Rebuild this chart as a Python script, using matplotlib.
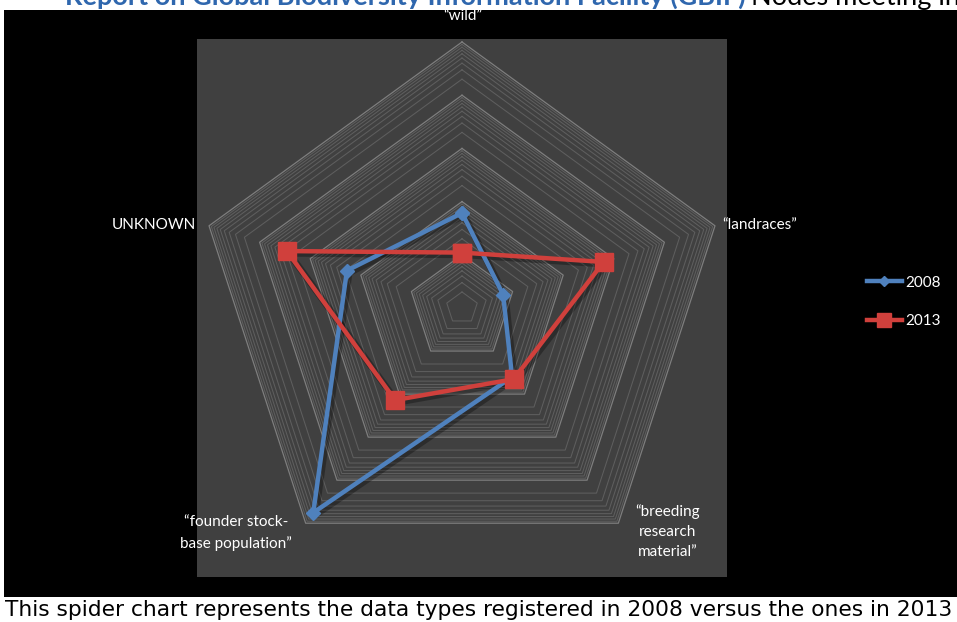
import numpy as np
import matplotlib
matplotlib.use("Agg")
import matplotlib.pyplot as plt
from matplotlib.patches import Rectangle

# ---- data ----
categories = ["\u201cwild\u201d", "\u201clandraces\u201d", "\u201cbreeding\nresearch\nmaterial\u201d",
              "\u201cfounder stock-\nbase population\u201d", "UNKNOWN"]
series_names = ["2008", "2013"]
values_2008 = [61, 6.5, 40, 57000, 188]
values_2013 = [11, 630, 45, 138, 2900]
decades = 5  # log axis 1 .. 100000

W, H = 957, 622
fig = plt.figure(figsize=(W / 100, H / 100), dpi=100, facecolor="white")

def fx(px):
    return px / W

def fy(py):
    return 1 - py / H

# black slide background
fig.patches.append(Rectangle((fx(4), fy(597)), fx(957) - fx(4), fy(10) - fy(597),
                             transform=fig.transFigure, facecolor="black", edgecolor="none", zorder=-10))

# plot area
L, T, Rr, B = 197, 39, 727, 577
ax = fig.add_axes([fx(L), fy(B), fx(Rr) - fx(L), fy(T) - fy(B)])
ax.set_facecolor("#404040")
cx, cy, R = 462, 308, 266
ppu = R / decades
ax.set_xlim((L - cx) / ppu, (Rr - cx) / ppu)
ax.set_ylim(-(B - cy) / ppu, (cy - T) / ppu)
for s in ax.spines.values():
    s.set_visible(False)
ax.set_xticks([]); ax.set_yticks([])

n = len(categories)
angles = np.deg2rad(90 - 72 * np.arange(n))

def ring(r, **kw):
    a = np.append(angles, angles[0])
    ax.plot(r * np.cos(a), r * np.sin(a), **kw)

for d in range(decades):
    for k in range(2, 10):
        ring(d + np.log10(k), color="#5e5e5e", lw=0.75, zorder=1)
    ring(d + 1, color="#7e7e7e", lw=0.9, zorder=1.5)

def plot_series(vals, color, marker, ms, label):
    r = np.log10(np.array(vals, dtype=float))
    r = np.append(r, r[0])
    a = np.append(angles, angles[0])
    x, y = r * np.cos(a), r * np.sin(a)
    ax.plot(x + 0.04, y - 0.04, color="black", lw=5, alpha=0.3, zorder=2)
    ln, = ax.plot(x, y, color=color, lw=3.2, marker=marker, ms=ms,
                  markerfacecolor=color, markeredgecolor=color, zorder=3, label=label,
                  solid_joinstyle="round")
    return ln

h1 = plot_series(values_2008, "#4F81BD", "D", 7, series_names[0])
h2 = plot_series(values_2013, "#D0403C", "s", 12.5, series_names[1])

lab_font = dict(family="Lato", fontsize=11, color="white")
# category labels
fig.text(fx(463), fy(16), categories[0], ha="center", va="center", **lab_font)
fig.text(fx(722), fy(225), categories[1], ha="left", va="center", **lab_font)
fig.text(fx(668), fy(532), categories[2], ha="center", va="center", linespacing=1.55, **lab_font)
fig.text(fx(236), fy(533), categories[3], ha="center", va="center", linespacing=1.55, **lab_font)
fig.text(fx(196), fy(225), categories[4], ha="right", va="center", **lab_font)

# legend
leg = fig.legend(handles=[h1, h2], labels=series_names, loc="center left",
                 bbox_to_anchor=(fx(853), fy(302)), frameon=False, labelcolor="white",
                 prop=dict(family="Lato", size=11), handlelength=2.3, handletextpad=0.2,
                 labelspacing=1.6, markerscale=0.8)

# cut-off title at top
fig.text(fx(65), fy(5), "Report on Global Biodiversity Information Facility (GBIF)",
         ha="left", va="baseline", family="Lato", fontweight="bold", fontsize=19.5, color="#2F67AE")
fig.text(fx(751), fy(5), "Nodes meeting in", ha="left", va="baseline", family="Lato",
         fontsize=19.5, color="black")

# caption
fig.text(fx(5), fy(610), "This spider chart represents the data types registered in 2008 versus the ones in 2013",
         ha="left", va="center", family="DejaVu Sans", fontsize=15.7, color="black")

fig.savefig("out.png", dpi=100, facecolor="white")
